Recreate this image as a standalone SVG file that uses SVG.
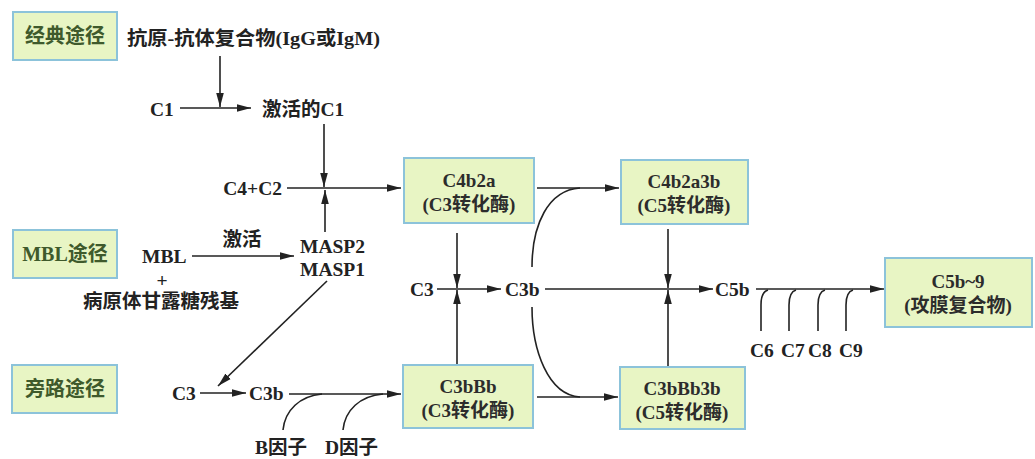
<svg xmlns="http://www.w3.org/2000/svg" width="1035" height="459" viewBox="0 0 1035 459">
<defs>
<marker id="ah" markerUnits="userSpaceOnUse" markerWidth="16" markerHeight="10" refX="14" refY="5" orient="auto">
<path d="M0,1.2 L14,5 L0,8.8 Z" fill="#222"/>
</marker>
<style>
.bg{fill:#fff}
.box{fill:#e8f5c4;stroke:#8cc3da;stroke-width:2}
.t{font-family:"Liberation Serif","Noto Sans CJK SC",serif;font-weight:bold;font-size:19.5px;fill:#222}
.bt{font-family:"Liberation Serif","Noto Sans CJK SC",serif;font-weight:bold;font-size:19px;fill:#2c2c2c;text-anchor:middle}
.pt{font-family:"Liberation Serif","Noto Sans CJK SC",serif;font-weight:bold;font-size:20px;fill:#3f5a2c;text-anchor:middle}
.ln{fill:none;stroke:#222;stroke-width:1.6}
.ar{fill:none;stroke:#222;stroke-width:1.6;marker-end:url(#ah)}
</style>
</defs>
<rect class="bg" width="1035" height="459"/>

<g id="classical">
<rect class="box" x="13" y="12" width="104" height="48"/>
<text class="pt" x="65" y="43">经典途径</text>
</g>
<g id="mbl">
<rect class="box" x="13" y="230" width="104" height="48"/>
<text class="pt" x="65" y="261">MBL途径</text>
</g>
<g id="alternative">
<rect class="box" x="12" y="365" width="105" height="48"/>
<text class="pt" x="65" y="396">旁路途径</text>
</g>

<g id="c4b2a">
<rect class="box" x="404" y="158" width="130" height="65"/>
<text class="bt" x="469" y="187">C4b2a</text>
<text class="bt" x="469" y="211">(C3转化酶)</text>
</g>
<g id="c4b2a3b">
<rect class="box" x="621" y="160" width="127" height="64"/>
<text class="bt" x="684" y="188">C4b2a3b</text>
<text class="bt" x="684" y="212">(C5转化酶)</text>
</g>
<g id="c3bbb">
<rect class="box" x="403" y="365" width="130" height="63"/>
<text class="bt" x="468" y="393">C3bBb</text>
<text class="bt" x="468" y="417">(C3转化酶)</text>
</g>
<g id="c3bbb3b">
<rect class="box" x="620" y="367" width="125" height="62"/>
<text class="bt" x="682" y="395">C3bBb3b</text>
<text class="bt" x="682" y="419">(C5转化酶)</text>
</g>
<g id="c5b9">
<rect class="box" x="885" y="258" width="147" height="69"/>
<text class="bt" x="958" y="288">C5b~9</text>
<text class="bt" x="958" y="312">(攻膜复合物)</text>
</g>

<g id="labels">
<text class="t" x="127" y="45" textLength="253" lengthAdjust="spacingAndGlyphs">抗原-抗体复合物(IgG或IgM)</text>
<text class="t" x="150" y="116">C1</text>
<text class="t" x="262" y="116">激活的C1</text>
<text class="t" x="282" y="195" text-anchor="end">C4+C2</text>
<text class="t" x="242" y="246" text-anchor="middle">激活</text>
<text class="t" x="142" y="263">MBL</text>
<text class="t" x="162" y="287" text-anchor="middle">+</text>
<text class="t" x="83" y="308">病原体甘露糖残基</text>
<text class="t" x="300" y="253">MASP2</text>
<text class="t" x="300" y="276">MASP1</text>
<text class="t" x="172" y="400">C3</text>
<text class="t" x="249" y="400">C3b</text>
<text class="t" x="255" y="454">B因子</text>
<text class="t" x="325" y="454">D因子</text>
<text class="t" x="410" y="296">C3</text>
<text class="t" x="505" y="296">C3b</text>
<text class="t" x="715" y="296">C5b</text>
<text class="t" x="750" y="357">C6</text>
<text class="t" x="781" y="357">C7</text>
<text class="t" x="808" y="357">C8</text>
<text class="t" x="839" y="357">C9</text>
</g>

<g id="connectors">
<path class="ar" d="M220,56 V107"/>
<path class="ar" d="M180,108 H251"/>
<path class="ar" d="M324,124 V187"/>
<path class="ar" d="M287,188 H401"/>
<path class="ar" d="M325,232 V190"/>
<path class="ar" d="M192,256 H294"/>
<path class="ar" d="M327,281 L218,386"/>
<path class="ar" d="M200,393 H246"/>
<path class="ar" d="M289,394 H401"/>
<path class="ln" d="M283,430 C285,410 300,396 322,394"/>
<path class="ln" d="M343,430 C345,410 360,396 383,394"/>
<path class="ar" d="M457,233 V288"/>
<path class="ar" d="M457,364 V290"/>
<path class="ar" d="M437,289 H501"/>
<path class="ar" d="M537,188 H619"/>
<path class="ln" d="M532,267 C532,225 548,190 580,188"/>
<path class="ar" d="M537,397 H618"/>
<path class="ln" d="M532,307 C532,350 548,395 580,397"/>
<path class="ar" d="M668,229 V288"/>
<path class="ar" d="M668,366 V290"/>
<path class="ar" d="M545,289 H713"/>
<path class="ar" d="M756,289 H884"/>
<path class="ln" d="M768,290 Q761,292 761,305 V331"/>
<path class="ln" d="M796,290 Q789,292 789,305 V331"/>
<path class="ln" d="M825,290 Q818,292 818,305 V331"/>
<path class="ln" d="M853,290 Q846,292 846,305 V331"/>
</g>
</svg>
